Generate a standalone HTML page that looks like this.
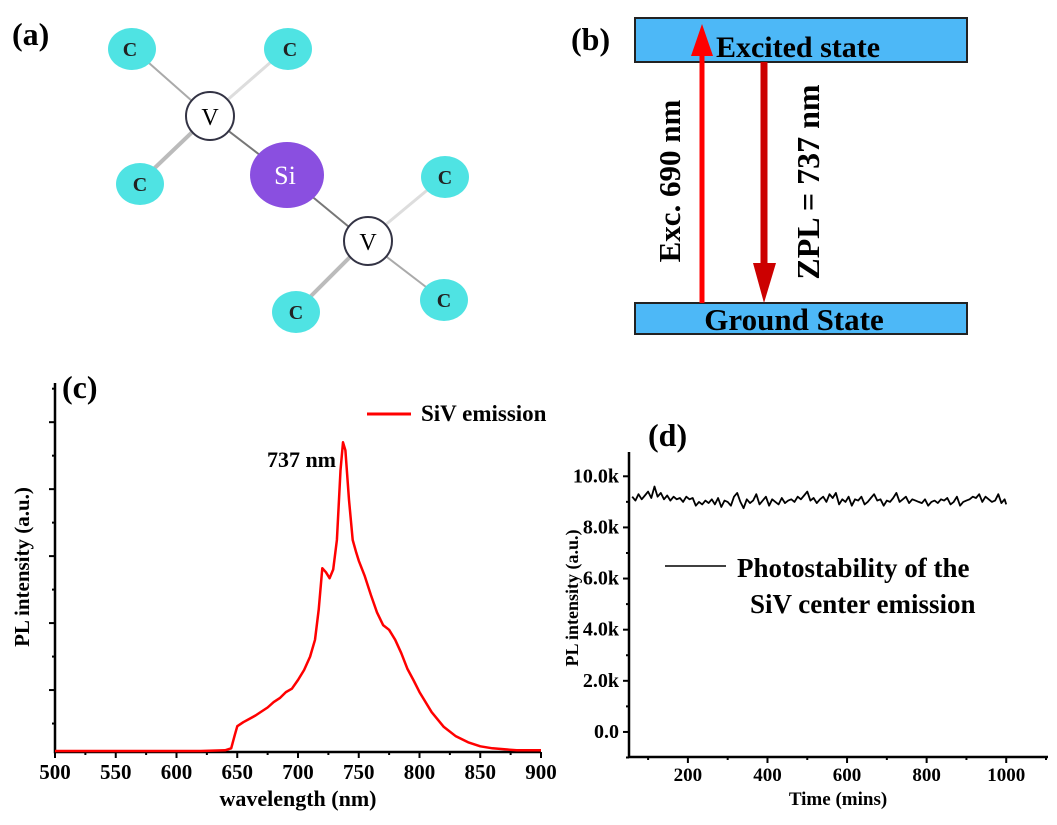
<!DOCTYPE html>
<html><head><meta charset="utf-8">
<style>
body{margin:0;background:#fff;}
svg{display:block;font-family:"Liberation Serif",serif;font-weight:bold;}
</style></head>
<body>
<svg id="fig" width="1057" height="825" viewBox="0 0 1057 825" xmlns="http://www.w3.org/2000/svg">
<!-- Panel a -->
<g>
<text x="12" y="45" font-size="32">(a)</text>
<g stroke="#aaa" stroke-width="2">
<line x1="132" y1="48" x2="209" y2="116"/><line x1="287" y1="48" x2="209" y2="116" stroke-width="3" stroke="#ddd"/>
<line x1="139" y1="183" x2="209" y2="116" stroke-width="4" stroke="#bbb"/><line x1="209" y1="116" x2="286" y2="175" stroke="#777"/>
<line x1="286" y1="175" x2="366" y2="241" stroke="#777"/><line x1="443" y1="177" x2="366" y2="241" stroke-width="3" stroke="#ddd"/>
<line x1="296" y1="311" x2="366" y2="241" stroke-width="4" stroke="#bbb"/><line x1="443" y1="300" x2="366" y2="241"/>
</g>
<g font-size="20" text-anchor="middle" fill="#222">
<ellipse cx="132" cy="49" rx="24" ry="21" fill="#4fe3e3"/><text x="130" y="56">C</text>
<ellipse cx="288" cy="49" rx="24" ry="21" fill="#4fe3e3"/><text x="290" y="56">C</text>
<ellipse cx="140" cy="184" rx="24" ry="21" fill="#4fe3e3"/><text x="140" y="191">C</text>
<ellipse cx="445" cy="177" rx="24" ry="21" fill="#4fe3e3"/><text x="445" y="184">C</text>
<ellipse cx="296" cy="312" rx="24" ry="21" fill="#4fe3e3"/><text x="296" y="319">C</text>
<ellipse cx="444" cy="300" rx="24" ry="21" fill="#4fe3e3"/><text x="444" y="307">C</text>
</g>
<g font-size="24" text-anchor="middle" font-weight="normal">
<circle cx="210" cy="116" r="24" fill="#fff" stroke="#334" stroke-width="2"/><text x="210" y="125">V</text>
<circle cx="368" cy="241" r="24" fill="#fff" stroke="#334" stroke-width="2"/><text x="368" y="250">V</text>
</g>
<ellipse cx="287" cy="175" rx="37" ry="33" fill="#8a4fe0"/>
<text x="285" y="184" font-size="26" fill="#fff" font-weight="normal" text-anchor="middle">Si</text>
</g>
<!-- Panel b -->
<g>
<text x="571" y="50" font-size="32">(b)</text>
<rect x="635" y="18" width="332" height="44" fill="#4db8f7" stroke="#222" stroke-width="2"/>
<text x="798" y="57" font-size="30" text-anchor="middle">Excited state</text>
<rect x="635" y="303" width="332" height="31" fill="#4db8f7" stroke="#222" stroke-width="2"/>
<text x="794" y="330" font-size="31" text-anchor="middle">Ground State</text>
<line x1="702" y1="303" x2="702" y2="50" stroke="#f00" stroke-width="5"/>
<polygon points="702,24 691,56 713,56" fill="#f00"/>
<line x1="764" y1="62" x2="764" y2="275" stroke="#c00" stroke-width="7"/>
<polygon points="764,303 753,263 776,263" fill="#c00"/>
<text transform="translate(680,181) rotate(-90)" font-size="31" text-anchor="middle">Exc. 690 nm</text>
<text transform="translate(819,182) rotate(-90)" font-size="32" text-anchor="middle">ZPL = 737 nm</text>
</g>
<g id="pc"></g>
<g id="pd"></g>
</svg>
<script>
// Panel c data
const wavelengths=[500,520,540,560,580,600,620,640,645,648,650,655,660,665,670,675,680,685,690,695,700,705,710,714,717,720,723,726,729,732,735,737,739,742,745,748,750,755,760,765,770,775,780,785,790,795,800,810,820,830,840,850,860,880,900];
const intensities=[0.09,0.09,0.09,0.09,0.09,0.09,0.09,0.1,0.13,0.33,0.46,0.52,0.57,0.62,0.68,0.74,0.82,0.88,0.97,1.02,1.15,1.3,1.5,1.75,2.2,2.82,2.76,2.67,2.8,3.24,4.28,4.7,4.58,3.84,3.24,3.05,2.93,2.7,2.42,2.16,1.97,1.9,1.75,1.55,1.32,1.15,0.97,0.67,0.45,0.31,0.22,0.16,0.13,0.1,0.1];
const cXTicks=[500,550,600,650,700,750,800,850,900];
const cYTicks=[1,2,3,4,5];
// Panel d data
const times=[60,68,76,84,92,100,108,116,124,132,140,148,156,164,172,180,188,196,204,212,220,228,236,244,252,260,268,276,284,292,300,308,316,324,332,340,348,356,364,372,380,388,396,404,412,420,428,436,444,452,460,468,476,484,492,500,508,516,524,532,540,548,556,564,572,580,588,596,604,612,620,628,636,644,652,660,668,676,684,692,700,708,716,724,732,740,748,756,764,772,780,788,796,804,812,820,828,836,844,852,860,868,876,884,892,900,908,916,924,932,940,948,956,964,972,980,988,996,1000];
const plValues=[9.2,9.05,9.3,9.1,9.25,9.4,9.15,9.6,9.2,9.35,9.1,9.25,9.05,9.2,9.1,9.15,9.0,9.2,9.1,9.15,8.85,9.0,8.9,9.05,8.95,9.1,8.9,9.15,8.8,9.05,9.0,8.85,9.2,9.35,9.0,8.75,9.1,8.95,9.05,9.3,8.9,9.05,9.2,8.85,9.1,9.0,8.9,9.15,8.95,9.05,9.1,9.0,9.2,9.1,9.25,9.4,9.05,9.15,8.95,9.1,9.2,9.0,9.3,9.15,9.35,8.9,9.1,9.0,9.2,8.85,9.1,9.05,9.2,8.9,9.0,9.15,9.3,9.05,9.1,8.85,9.05,9.0,9.15,9.35,9.0,9.1,9.2,8.95,9.1,9.05,9.0,8.95,9.1,8.85,9.0,9.05,8.95,9.1,9.05,9.15,8.9,9.0,9.2,8.85,9.0,9.05,9.1,9.2,9.15,9.3,9.0,9.2,9.1,9.0,9.05,9.3,8.95,9.1,8.9];
const dXTicks=[200,400,600,800,1000];
const dYTicks=[0,2,4,6,8,10];
const dYLabels=["0.0","2.0k","4.0k","6.0k","8.0k","10.0k"];

const NS="http://www.w3.org/2000/svg";
function mk(parent,tag,attrs,txt){const e=document.createElementNS(NS,tag);for(const k in attrs)e.setAttribute(k,attrs[k]);if(txt!==undefined)e.textContent=txt;parent.appendChild(e);return e;}

// Panel c
(function(){
const g=document.getElementById('pc');
const L=55,R=541,T=383,B=752,xmin=500,xmax=900,ymin=0.075,ymax=5.585;
const X=v=>L+(v-xmin)/(xmax-xmin)*(R-L), Y=v=>B-(v-ymin)/(ymax-ymin)*(B-T);
let t=mk(g,'text',{x:62,y:398,'font-size':32},'(c)');


let ax=mk(g,'path',{d:`M${L},${T}V${B}H${R}`,fill:'none',stroke:'#000','stroke-width':2.5});


for(let v=xmin;v<=xmax;v+=25){const major=(v%50===0);mk(g,'line',{x1:X(v),x2:X(v),y1:B,y2:B+(major?6:3),stroke:'#000','stroke-width':2});}
cXTicks.forEach(v=>{const l=mk(g,'text',{x:X(v),y:779,'font-size':21,'text-anchor':'middle'},v);

});
for(let v=0.5;v<=5.5;v+=0.5){const major=Math.abs(v-Math.round(v))<0.01;mk(g,'line',{x1:L,x2:L-(major?6:3),y1:Y(v),y2:Y(v),stroke:'#000','stroke-width':2});}
let xl=mk(g,'text',{x:298,y:806,'font-size':22,'text-anchor':'middle'},'wavelength (nm)');


let yl=mk(g,'text',{transform:'translate(29,567) rotate(-90)','font-size':21,'text-anchor':'middle'},'PL intensity (a.u.)');


const d=wavelengths.map((w,i)=>(i?'L':'M')+X(w).toFixed(1)+','+Y(intensities[i]).toFixed(1)).join('');
let p=mk(g,'path',{d,fill:'none',stroke:'#f00','stroke-width':2.5,'stroke-linejoin':'round'});


let ll=mk(g,'line',{x1:367,x2:411,y1:414,y2:414,stroke:'#f00','stroke-width':3});


let lt=mk(g,'text',{x:421,y:421,'font-size':23},'SiV emission');


let pk=mk(g,'text',{x:336,y:467,'font-size':22,'text-anchor':'end'},'737 nm');


})();

// Panel d
(function(){
const g=document.getElementById('pd');
const L=629,R=1048,T=452,B=757,xmin=52,xmax=1105,ymin=-0.98,ymax=10.95;
const X=v=>L+(v-xmin)/(xmax-xmin)*(R-L), Y=v=>B-(v-ymin)/(ymax-ymin)*(B-T);
let t=mk(g,'text',{x:648,y:446,'font-size':32},'(d)');


let ax=mk(g,'path',{d:`M${L},${T}V${B}H${R}`,fill:'none',stroke:'#000','stroke-width':2.5});


for(let v=100;v<=1100;v+=100){const major=(v%200===0);mk(g,'line',{x1:X(v),x2:X(v),y1:B,y2:B+(major?6:3),stroke:'#000','stroke-width':2});}
dXTicks.forEach(v=>{const l=mk(g,'text',{x:X(v),y:781,'font-size':19,'text-anchor':'middle'},v);

});
for(let v=-1;v<=10;v+=1){const major=(v%2===0);mk(g,'line',{x1:L,x2:L-(major?6:3),y1:Y(v),y2:Y(v),stroke:'#000','stroke-width':2});}
dYTicks.forEach((v,i)=>{const l=mk(g,'text',{x:619,y:Y(v)+6,'font-size':20,'text-anchor':'end'},dYLabels[i]);

});
let xl=mk(g,'text',{x:838,y:805,'font-size':19,'text-anchor':'middle'},'Time (mins)');


let yl=mk(g,'text',{transform:'translate(578,598) rotate(-90)','font-size':18,'text-anchor':'middle'},'PL intensity (a.u.)');


const d=times.map((w,i)=>(i?'L':'M')+X(w).toFixed(1)+','+Y(plValues[i]).toFixed(1)).join('');
let p=mk(g,'path',{d,fill:'none',stroke:'#000','stroke-width':1.8,'stroke-linejoin':'round'});


let ll=mk(g,'line',{x1:665,x2:726,y1:566,y2:566,stroke:'#000','stroke-width':1.5});


let lt=mk(g,'text',{x:737,y:577,'font-size':27},'Photostability of the');


let lt2=mk(g,'text',{x:750,y:613,'font-size':27},'SiV center emission');


})();
</script>
</body></html>
